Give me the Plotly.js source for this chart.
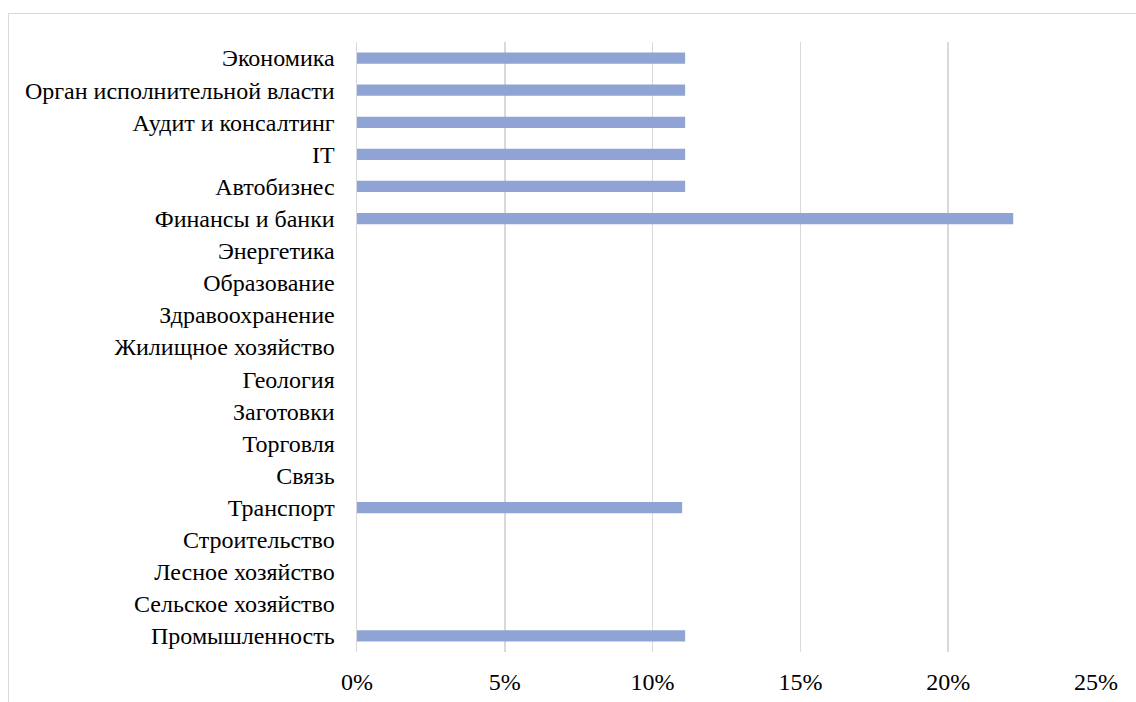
<!DOCTYPE html>
<html>
<head>
<meta charset="utf-8">
<script src="https://cdn.plot.ly/plotly-3.0.1.min.js"></script>
<style>
html,body{margin:0;padding:0;background:#fff;}
#frame{position:absolute;left:8px;top:13px;width:1140px;height:700px;border-left:1.5px solid #d9d9d9;border-top:1.5px solid #d9d9d9;box-sizing:border-box;pointer-events:none;}
#chart{position:absolute;left:0;top:0;width:1136px;height:702px;}
</style>
</head>
<body>
<div id="chart"></div>
<div id="frame"></div>
<script>
const categories = ["Промышленность","Сельское хозяйство","Лесное хозяйство","Строительство","Транспорт","Связь","Торговля","Заготовки","Геология","Жилищное хозяйство","Здравоохранение","Образование","Энергетика","Финансы и банки","Автобизнес","IT","Аудит и консалтинг","Орган исполнительной власти","Экономика"];
const shares = [0.111,0,0,0,0.110,0,0,0,0,0,0,0,0,0.222,0.111,0.111,0.111,0.111,0.111];
const xTicks = [0,0.05,0.10,0.15,0.20,0.25];
const xTickLabels = ["0%","5%","10%","15%","20%","25%"];

const trace = {
  type:'bar', orientation:'h',
  y: categories, x: shares,
  marker:{color:'#8fa3d4', line:{width:0}},
  hoverinfo:'none'
};
const layout = {
  width:1136, height:702,
  margin:{l:357, r:40, t:42, b:50},
  paper_bgcolor:'rgba(0,0,0,0)', plot_bgcolor:'rgba(0,0,0,0)',
  bargap:0.65,
  showlegend:false,
  font:{family:'Liberation Serif, Times New Roman, serif', size:24, color:'#000'},
  xaxis:{range:[0,0.25], tickvals:xTicks, ticktext:xTickLabels, showgrid:true, gridcolor:'#d9d9d9', gridwidth:1.5, zeroline:false, showline:false, ticks:'', ticklabelstandoff:13, fixedrange:true},
  yaxis:{type:'category', categoryorder:'array', categoryarray:categories, showgrid:false, zeroline:false, showline:true, linecolor:'#d9d9d9', linewidth:1.5, ticks:'', ticklabelstandoff:16, fixedrange:true}
};
Plotly.newPlot('chart',[trace],layout,{displayModeBar:false,staticPlot:true});
</script>
</body>
</html>
